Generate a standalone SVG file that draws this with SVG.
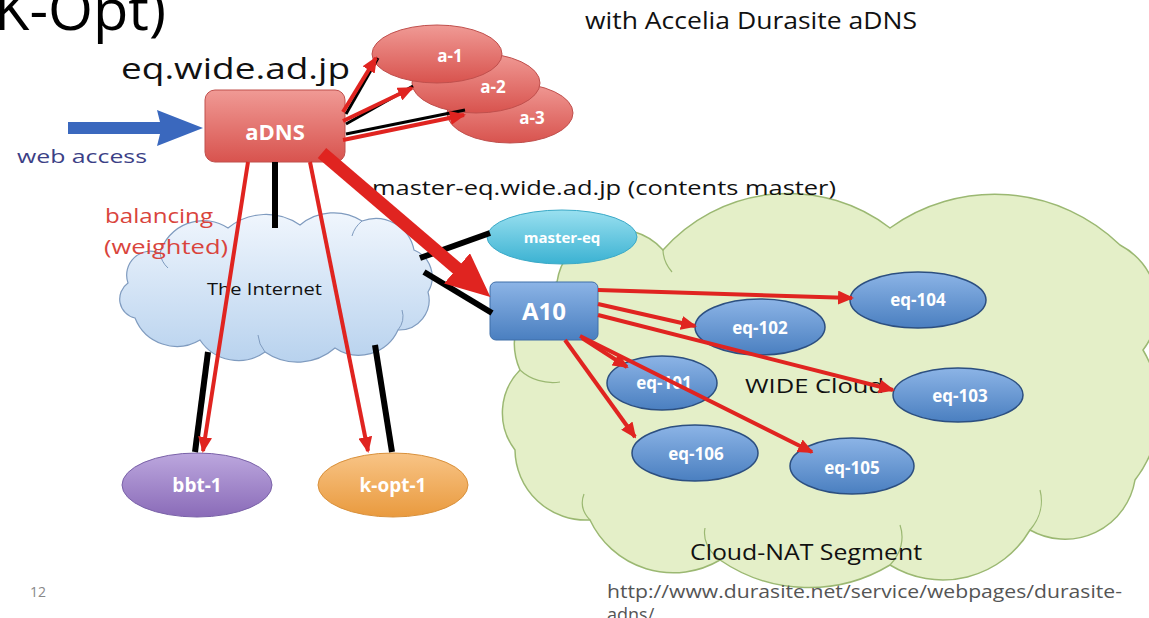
<svg xmlns="http://www.w3.org/2000/svg" width="1149" height="618" viewBox="0 0 1149 618">
<defs>
<style>
.lbl{font-family:"Open Sans","Liberation Sans",sans-serif;fill:#111}
.nt{font-family:"Open Sans","Liberation Sans",sans-serif;fill:#fff;font-weight:bold;text-anchor:middle}
.red{stroke:#e02420;stroke-width:4;fill:none;marker-end:url(#ah)}
.blk{stroke:#000;stroke-width:6;fill:none}
.eq{fill:url(#gBlue);stroke:#2c4f80;stroke-width:1.5}
</style>
<linearGradient id="gRed" x1="0" y1="0" x2="0" y2="1"><stop offset="0" stop-color="#f09a95"/><stop offset="1" stop-color="#d8534e"/></linearGradient>
<linearGradient id="gBlue" x1="0" y1="0" x2="0" y2="1"><stop offset="0" stop-color="#8cb4e6"/><stop offset="1" stop-color="#4a7fc0"/></linearGradient>
<linearGradient id="gCyan" x1="0" y1="0" x2="0" y2="1"><stop offset="0" stop-color="#9ae0f0"/><stop offset="1" stop-color="#3bb2d2"/></linearGradient>
<linearGradient id="gPurple" x1="0" y1="0" x2="0" y2="1"><stop offset="0" stop-color="#bca7de"/><stop offset="1" stop-color="#8a6bb8"/></linearGradient>
<linearGradient id="gOrange" x1="0" y1="0" x2="0" y2="1"><stop offset="0" stop-color="#f8c486"/><stop offset="1" stop-color="#e99a3e"/></linearGradient>
<linearGradient id="gSky" x1="0" y1="0" x2="0" y2="1"><stop offset="0" stop-color="#f0f6fd"/><stop offset="1" stop-color="#b8d2ee"/></linearGradient>
<marker id="ah" markerUnits="userSpaceOnUse" markerWidth="16" markerHeight="14" refX="14" refY="7" orient="auto"><path d="M0,0 L16,7 L0,14 Z" fill="#e02420"/></marker>
<marker id="big" markerUnits="userSpaceOnUse" markerWidth="46" markerHeight="40" refX="4" refY="20" orient="auto"><path d="M0,0 L44,20 L0,40 Z" fill="#e02420"/></marker>
</defs>
<rect width="1149" height="618" fill="#fff"/>

<!-- clouds -->
<g id="wide-cloud">
<path d="M557,282 A61,61 0 0 1 663,250 A167,167 0 0 1 890,228 A180,180 0 0 1 1120,245 A70,70 0 0 1 1143,350 A116,116 0 0 1 1135,480 A71,71 0 0 1 1030,530 A101,101 0 0 1 890,565 A157,157 0 0 1 720,560 A92,92 0 0 1 590,520 A71,71 0 0 1 515,450 A61,61 0 0 1 520,370 A66,66 0 0 1 557,282 Z" fill="#e4efc8" stroke="#9bb872" stroke-width="1.5"/>
<path d="M520,370 A45,40 0 0 0 560,382 M663,250 A50,40 0 0 0 672,272 M1030,530 A60,50 0 0 0 1040,490 M890,565 A70,50 0 0 0 900,525 M720,560 A60,40 0 0 1 705,528 M590,520 A40,30 0 0 1 584,494" fill="none" stroke="#9bb872" stroke-width="1.2"/>
<text class="lbl" x="745" y="393" font-size="20" textLength="139" lengthAdjust="spacingAndGlyphs">WIDE Cloud</text>
<text class="lbl" x="690" y="560" font-size="21" textLength="232" lengthAdjust="spacingAndGlyphs">Cloud-NAT Segment</text>
</g>
<g id="internet">
<path d="M135,318 A19.5,19.5 0 0 1 128,283 A24,24 0 0 1 160,253 A45,45 0 0 1 228,228 A60,60 0 0 1 300,225 A53,53 0 0 1 362,221 A39,39 0 0 1 414,250 A29,29 0 0 1 428,292 A30,30 0 0 1 398,330 A43,43 0 0 1 335,348 A57,57 0 0 1 265,352 A46,46 0 0 1 200,340 A45,45 0 0 1 135,318 Z" fill="url(#gSky)" stroke="#7f9bbf" stroke-width="1.2"/>
<path d="M160,253 A25,25 0 0 0 168,268 M362,221 A35,30 0 0 0 352,236 M398,330 A30,25 0 0 0 402,310 M265,352 A45,35 0 0 1 258,335" fill="none" stroke="#7f9bbf" stroke-width="1"/>
<text x="207" y="295" font-family="Open Sans, Liberation Sans, sans-serif" font-size="16" fill="#111" textLength="115" lengthAdjust="spacingAndGlyphs">The Internet</text>
</g>

<!-- free texts -->
<text x="-6" y="30" font-family="Open Sans, Liberation Sans, sans-serif" font-size="56" fill="#000" textLength="172" lengthAdjust="spacingAndGlyphs">K-Opt)</text>
<text class="lbl" x="585" y="29" font-size="23" textLength="332" lengthAdjust="spacingAndGlyphs">with Accelia Durasite aDNS</text>
<text class="lbl" x="121" y="79" font-size="29" textLength="229" lengthAdjust="spacingAndGlyphs">eq.wide.ad.jp</text>
<text x="17" y="163" font-family="Open Sans, Liberation Sans, sans-serif" font-size="19" fill="#3c3f86" textLength="130" lengthAdjust="spacingAndGlyphs">web access</text>
<text class="lbl" x="372" y="195" font-size="20" textLength="464" lengthAdjust="spacingAndGlyphs">master-eq.wide.ad.jp (contents master)</text>
<text x="105" y="223" font-family="Open Sans, Liberation Sans, sans-serif" font-size="20" fill="#d9443c" textLength="108" lengthAdjust="spacingAndGlyphs">balancing</text>
<text x="104" y="254" font-family="Open Sans, Liberation Sans, sans-serif" font-size="20" fill="#d9443c" textLength="124" lengthAdjust="spacingAndGlyphs">(weighted)</text>
<text x="30" y="597" font-family="Open Sans, Liberation Sans, sans-serif" font-size="14" fill="#888">12</text>
<text x="607" y="598" font-family="Open Sans, Liberation Sans, sans-serif" font-size="18" fill="#555" textLength="515" lengthAdjust="spacingAndGlyphs">http://www.durasite.net/service/webpages/durasite-</text>
<text x="607" y="621" font-family="Open Sans, Liberation Sans, sans-serif" font-size="18" fill="#555">adns/</text>

<!-- nodes -->
<g id="a-3"><ellipse cx="510" cy="113" rx="63" ry="30" fill="url(#gRed)" stroke="#c0504d"/><text class="nt" x="532" y="124" font-size="17">a-3</text></g>
<g id="a-2"><ellipse cx="476" cy="83" rx="64" ry="30" fill="url(#gRed)" stroke="#c0504d"/><text class="nt" x="493" y="93" font-size="17">a-2</text></g>
<g id="a-1"><ellipse cx="437" cy="54" rx="65" ry="29" fill="url(#gRed)" stroke="#c0504d"/><text class="nt" x="450" y="62" font-size="17">a-1</text></g>
<g id="aDNS"><rect x="205" y="90" width="140" height="72" rx="10" fill="url(#gRed)" stroke="#c0504d"/><text class="nt" x="275" y="140" font-size="22">aDNS</text></g>
<g id="web-access-arrow"><polygon points="68,122 160,122 157,110 203,128 157,146 160,134 68,134" fill="#3a68be"/></g>
<g id="master-eq"><ellipse cx="562" cy="237" rx="75" ry="27" fill="url(#gCyan)" stroke="#3aa9c7"/><text class="nt" x="562" y="243" font-size="15">master-eq</text></g>
<g id="A10"><rect x="490" y="282" width="108" height="58" rx="6" fill="url(#gBlue)" stroke="#3e6ea8"/><text class="nt" x="544" y="320" font-size="24">A10</text></g>
<g id="eq-104"><ellipse class="eq" cx="918" cy="300" rx="68" ry="28"/><text class="nt" x="918" y="306" font-size="17">eq-104</text></g>
<g id="eq-102"><ellipse class="eq" cx="760" cy="327" rx="65" ry="28"/><text class="nt" x="760" y="334" font-size="17">eq-102</text></g>
<g id="eq-101"><ellipse class="eq" cx="662" cy="383" rx="55" ry="27"/><text class="nt" x="664" y="389" font-size="17">eq-101</text></g>
<g id="eq-103"><ellipse class="eq" cx="958" cy="395" rx="65" ry="27"/><text class="nt" x="960" y="402" font-size="17">eq-103</text></g>
<g id="eq-106"><ellipse class="eq" cx="695" cy="453" rx="63" ry="28"/><text class="nt" x="696" y="460" font-size="17">eq-106</text></g>
<g id="eq-105"><ellipse class="eq" cx="852" cy="466" rx="62" ry="28"/><text class="nt" x="852" y="474" font-size="17">eq-105</text></g>
<g id="bbt-1"><ellipse cx="197" cy="485" rx="75" ry="32" fill="url(#gPurple)" stroke="#7a62a8"/><text class="nt" x="197" y="492" font-size="19">bbt-1</text></g>
<g id="k-opt-1"><ellipse cx="393" cy="485" rx="75" ry="32" fill="url(#gOrange)" stroke="#d9913c"/><text class="nt" x="393" y="492" font-size="19">k-opt-1</text></g>

<!-- connectors -->
<g id="connectors">
<line class="blk" x1="275" y1="162" x2="275" y2="228" stroke-width="8"/>
<line class="blk" x1="420" y1="258" x2="490" y2="233" stroke-width="5"/>
<line class="blk" x1="424" y1="272" x2="492" y2="313" stroke-width="5"/>
<line class="blk" x1="208" y1="352" x2="195" y2="452" stroke-width="5"/>
<line class="blk" x1="375" y1="345" x2="392" y2="452" stroke-width="5"/>
<line stroke="#000" stroke-width="3" x1="346" y1="114" x2="378" y2="58"/>
<line stroke="#000" stroke-width="3" x1="346" y1="124" x2="413" y2="86"/>
<line stroke="#000" stroke-width="3" x1="346" y1="134" x2="465" y2="110"/>
<line class="red" x1="343" y1="112" x2="376" y2="58"/>
<line class="red" x1="343" y1="121" x2="412" y2="88"/>
<line class="red" x1="343" y1="140" x2="464" y2="115"/>
<line class="red" x1="248" y1="162" x2="203" y2="451"/>
<line class="red" x1="310" y1="162" x2="368" y2="451"/>
<line x1="322" y1="153" x2="460" y2="271" stroke="#e02420" stroke-width="13" marker-end="url(#big)"/>
<line class="red" x1="598" y1="290" x2="852" y2="298"/>
<line class="red" x1="598" y1="304" x2="695" y2="326"/>
<line class="red" x1="598" y1="315" x2="893" y2="390"/>
<line class="red" x1="582" y1="338" x2="627" y2="367"/>
<line class="red" x1="565" y1="340" x2="635" y2="437"/>
<line class="red" x1="580" y1="336" x2="812" y2="452"/>
</g>
</svg>
